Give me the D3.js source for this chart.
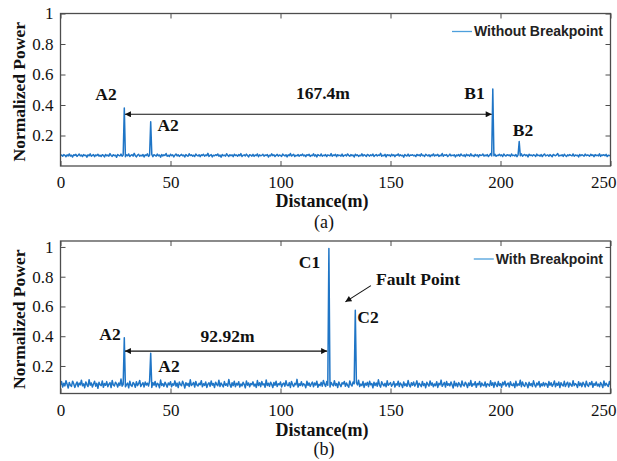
<!DOCTYPE html>
<html><head><meta charset="utf-8">
<script src="https://cdn.jsdelivr.net/npm/d3@7/dist/d3.min.js"></script>
<style>
html,body{margin:0;padding:0;background:#fff;}
svg{display:block;}
</style></head>
<body>
<svg id="chart" width="617" height="461"></svg>
<script>
// ---------------- DATA ----------------
const distStep = 0.5;            // metres between samples (0 .. 250 m)
const xTicks = [0, 50, 100, 150, 200, 250];
const yTicks = [0.2, 0.4, 0.6, 0.8, 1];
const yTickLabels = ["0.2", "0.4", "0.6", "0.8", "1"];

// background noise, normalised power x1000 (without breakpoint)
const noiseA = [
68,72,64,75,70,61,73,66,79,65,71,59,74,69,76,63,70,78,66,72,
62,75,69,71,58,73,67,80,64,70,75,61,72,68,77,65,71,63,74,69,
60,76,67,72,65,81,69,63,74,68,71,57,75,70,66,78,64,72,69,61,
73,67,79,62,70,74,65,83,68,60,72,77,64,71,66,75,59,73,69,80,
63,71,68,76,61,74,70,65,78,67,72,58,75,66,73,69,82,64,70,62,
77,68,73,60,71,79,66,74,63,70,76,67,72,59,75,68,64,80,69,73,
65,71,62,78,70,66,74,61,73,69,77,64,72,68,83,63,70,75,60,71,
67,74,69,79,64,72,58,76,68,71,65,80,70,63,74,67,73,61,77,69,
72,64,75,68,81,62,70,73,66,78,69,60,74,71,65,76,63,72,68,79,
61,73,67,70,77,64,72,69,75,59,71,66,80,68,74,62,70,76,65,72,
69,63,78,71,66,74,60,73,68,82,65,71,76,62,70,67,75,64,73,69,
78,66,72,61,74,69,77,63,71,68,80,65,73,60,75,70,66,79,64,71,
68,75,62,73,70,67,81,64,72,69,76,61,74,68,71,65,78,63,70,73,
66,79,70,64,75,68,72,59,77,69,73,63,71,67,80,65,74,70,62,76,
71,65,73,68,78,62,70,75,66,72,69,83,64,71,67,76,60,74,69,72,
63,77,68,74,61,72,70,79,65,73,67,71,58,75,69,66,78,64,72,70,
74,67,71,62,76,69,73,65,80,68,70,63,77,71,66,74,61,72,68,79,
65,72,69,76,63,71,67,82,64,73,70,75,62,69,78,66,71,68,74,60,
72,68,75,64,79,70,66,73,61,77,69,72,65,80,67,71,63,76,68,73,
60,74,69,71,78,65,72,67,75,62,70,81,66,73,68,76,64,71,69,77,
67,73,62,78,70,65,74,69,72,63,79,68,71,66,75,61,73,70,67,80,
64,71,76,68,73,60,77,69,72,66,74,70,63,78,68,71,65,75,62,72,
79,66,70,73,64,75,68,61,76,71,67,73,82,65,70,68,74,63,77,69,
62,73,68,75,70,66,79,64,72,69,71,60,76,67,74,70,65,78,68,72,
70,64,77,69,73,61,75,68,71,66,80,63,72,69,74,67,76,62,71,68,
70];

// background noise, normalised power x1000 (with breakpoint)
const noiseB = [
72,95,58,84,66,101,77,52,89,70,63,98,81,56,76,92,61,85,73,104,
67,80,54,93,75,62,108,71,86,59,79,97,64,83,50,90,74,68,99,57,
82,70,95,61,78,88,55,102,73,66,91,80,58,86,69,112,64,77,94,60,
75,85,53,97,71,63,89,79,57,94,68,81,103,62,76,87,59,92,72,84,
65,99,74,56,88,70,96,61,83,77,54,105,69,81,63,91,76,58,86,73,
94,60,80,71,100,64,85,55,92,75,67,98,79,52,88,70,83,62,107,68,
77,89,58,96,72,65,84,74,101,60,81,69,93,56,78,87,63,99,71,82,
55,91,76,67,104,62,85,73,59,95,70,80,64,109,75,57,88,68,97,61,
83,72,94,58,79,66,90,77,53,99,71,86,60,82,74,93,65,78,56,102,
69,87,61,95,73,80,57,106,68,84,63,91,76,55,89,70,97,62,81,74,
92,59,78,85,64,100,71,67,88,56,96,75,62,83,73,110,58,80,69,94,
66,81,74,54,97,70,86,63,79,92,60,85,72,98,57,77,68,90,64,103,
78,62,95,71,84,58,89,76,66,101,69,82,55,93,74,61,87,79,96,63,
85,70,57,99,75,65,92,80,59,88,73,104,62,78,68,95,56,84,71,90,
61,97,74,82,53,91,69,86,64,107,72,58,94,77,66,83,60,100,70,79,
88,64,76,95,58,81,71,98,62,85,75,55,93,68,80,63,102,73,59,87,
70,92,65,78,100,57,84,74,61,96,69,82,54,90,76,64,99,71,86,60,
79,68,94,56,83,73,105,63,77,89,58,95,70,81,66,92,74,52,97,67,
84,61,88,75,59,99,72,65,91,78,55,86,69,102,63,80,73,94,57,82,
74,96,60,85,71,67,93,58,80,76,64,100,70,87,56,91,75,62,95,69,
81,57,90,73,98,64,78,86,59,94,72,68,83,55,97,66,79,71,104,61,
93,70,63,88,76,54,91,69,82,62,100,74,59,85,72,96,58,80,67,89,
65,84,78,57,95,71,87,63,76,99,60,83,70,92,55,88,73,66,97,62,
79,91,58,86,72,64,101,68,81,75,56,94,69,85,61,90,77,59,98,71,
63,87,74,96,57,82,70,93,66,78,60,89,75,55,99,68,84,72,62,95,
74];

// reflection peaks: distance (m) and normalised power
const peakDistA = [29, 41, 196.5, 208.5];
const peakValA  = [0.38, 0.29, 0.505, 0.16];
const peakNameA = ["A2", "A2", "B1", "B2"];

const peakDistB = [29, 41, 122, 134];
const peakValB  = [0.39, 0.285, 0.99, 0.575];
const peakNameB = ["A2", "A2", "C1", "C2"];

const legendA = "Without Breakpoint";
const legendB = "With Breakpoint";
const spanLabelA = "167.4m";
const spanLabelB = "92.92m";
const faultLabel = "Fault Point";
const xTitle = "Distance(m)";
const yTitle = "Normalized Power";
const panelTags = ["(a)", "(b)"];

// ---------------- BUILD SERIES ----------------
function buildSeries(noise, pd, pv) {
  const vals = noise.map(v => v / 1000);
  pd.forEach((d, i) => { vals[Math.round(d / distStep)] = pv[i]; });
  return vals.map((v, i) => ({ d: i * distStep, v }));
}
const seriesA = buildSeries(noiseA, peakDistA, peakValA);
const seriesB = buildSeries(noiseB, peakDistB, peakValB);

// ---------------- DRAW ----------------
const svg = d3.select("#chart");
const serif = "'Liberation Serif','Times New Roman',serif";
const sans = "'Liberation Sans',Arial,sans-serif";
const lineColor = "#1f75c6";
const frameColor = "#4d4d4d";

const defs = svg.append("defs");
defs.append("marker").attr("id", "ah").attr("viewBox", "0 0 10 10")
  .attr("refX", 10).attr("refY", 5).attr("markerWidth", 7).attr("markerHeight", 6)
  .attr("markerUnits", "userSpaceOnUse").attr("orient", "auto-start-reverse")
  .append("path").attr("d", "M0,0 L10,5 L0,10 Z").attr("fill", "#111");

const x = d3.scaleLinear().domain([0, 250]).range([60.5, 610.5]);

const panels = [
  { top: 13.5, bottom: 166, dom: [0, 1], series: seriesA, legend: legendA,
    tag: panelTags[0], titleY: 207, tagY: 228 },
  { top: 241, bottom: 393.5, dom: [0.015, 1.04], series: seriesB, legend: legendB,
    tag: panelTags[1], titleY: 436, tagY: 455 }
];

panels.forEach((p, pi) => {
  const y = d3.scaleLinear().domain(p.dom).range([p.bottom, p.top]);
  p.y = y;
  const g = svg.append("g");

  // clip
  const cid = "clip" + pi;
  defs.append("clipPath").attr("id", cid).append("rect")
    .attr("x", x(0)).attr("y", p.top).attr("width", x(250) - x(0)).attr("height", p.bottom - p.top);

  // data line
  g.append("path").datum(p.series)
    .attr("clip-path", `url(#${cid})`)
    .attr("fill", "none").attr("stroke", lineColor).attr("stroke-width", 1.5)
    .attr("stroke-linejoin", "round")
    .attr("d", d3.line().x(d => x(d.d)).y(d => y(d.v)));

  // axes (inward ticks)
  const fmt = d => yTickLabels[yTicks.indexOf(d)];
  const ax = g.append("g").attr("transform", `translate(0,${p.bottom})`)
    .call(d3.axisBottom(x).tickValues(xTicks).tickSize(-5).tickPadding(10));
  // keep the last tick label inside the picture
  ax.selectAll(".tick text").filter(d => d === 250).attr("text-anchor", "end").attr("dx", 5.5);
  g.append("g").attr("transform", `translate(0,${p.top})`)
    .call(d3.axisTop(x).tickValues(xTicks).tickSize(-5).tickFormat(""));
  g.append("g").attr("transform", `translate(${x(0)},0)`)
    .call(d3.axisLeft(y).tickValues(yTicks).tickSize(-5).tickPadding(7).tickFormat(fmt));
  g.append("g").attr("transform", `translate(${x(250)},0)`)
    .call(d3.axisRight(y).tickValues(yTicks).tickSize(-5).tickFormat(""));
  g.selectAll(".domain").remove();
  g.selectAll(".tick line").attr("stroke", frameColor).attr("stroke-width", 1);
  g.selectAll(".tick text").attr("font-family", serif).attr("font-size", 17).attr("fill", "#111");

  // frame
  g.append("rect").attr("x", x(0)).attr("y", p.top)
    .attr("width", x(250) - x(0)).attr("height", p.bottom - p.top)
    .attr("fill", "none").attr("stroke", frameColor).attr("stroke-width", 1.3);

  // titles
  g.append("text").attr("x", 322).attr("y", p.titleY).attr("text-anchor", "middle")
    .attr("font-family", serif).attr("font-weight", "bold").attr("font-size", 18)
    .attr("fill", "#111").text(xTitle);
  g.append("text").attr("x", 324).attr("y", p.tagY).attr("text-anchor", "middle")
    .attr("font-family", serif).attr("font-size", 18).attr("fill", "#111").text(p.tag);
  const yc = (p.top + p.bottom) / 2 + 2;
  g.append("text").attr("transform", `translate(25,${yc}) rotate(-90)`)
    .attr("text-anchor", "middle").attr("font-family", serif).attr("font-weight", "bold")
    .attr("font-size", 17.5).attr("fill", "#111").text(yTitle);

  // legend
  const lt = g.append("text").attr("x", 603).attr("y", p.top + 22.5).attr("text-anchor", "end")
    .attr("font-family", sans).attr("font-weight", "bold").attr("font-size", 14)
    .attr("fill", "#222").text(p.legend);
  const tw = lt.node().getComputedTextLength();
  g.append("line").attr("x1", 603 - tw - 22).attr("x2", 603 - tw - 2)
    .attr("y1", p.top + 18).attr("y2", p.top + 18)
    .attr("stroke", "#4d9fdc").attr("stroke-width", 1.3);
});

function label(p, dm, v, txt, anchor) {
  svg.append("text").attr("x", x(dm)).attr("y", p.y(v)).attr("text-anchor", anchor || "middle")
    .attr("font-family", serif).attr("font-weight", "bold").attr("font-size", 17.5)
    .attr("fill", "#111").text(txt);
}
function arrow(p, d1, v1, d2, v2, both) {
  const l = svg.append("line").attr("x1", x(d1)).attr("y1", p.y(v1))
    .attr("x2", x(d2)).attr("y2", p.y(v2))
    .attr("stroke", "#111").attr("stroke-width", 1.1).attr("marker-end", "url(#ah)");
  if (both) l.attr("marker-start", "url(#ah)");
}

// panel (a) annotations
const pa = panels[0], pb = panels[1];
label(pa, 20.7, 0.433, peakNameA[0]);
label(pa, 48.9, 0.23, peakNameA[1]);
label(pa, 188.2, 0.44, peakNameA[2]);
label(pa, 210.2, 0.197, peakNameA[3]);
label(pa, 119.3, 0.44, spanLabelA);
arrow(pa, peakDistA[0] + 0.3, 0.339, peakDistA[2] - 0.5, 0.339, true);

// panel (b) annotations
label(pb, 22.5, 0.375, peakNameB[0]);
label(pb, 49.3, 0.16, peakNameB[1]);
label(pb, 113.2, 0.86, peakNameB[2]);
label(pb, 139.8, 0.49, peakNameB[3]);
label(pb, 75.9, 0.362, spanLabelB);
label(pb, 143.4, 0.746, faultLabel, "start");
arrow(pb, peakDistB[0] + 0.3, 0.30, peakDistB[2] - 0.8, 0.30, true);
arrow(pb, 141.1, 0.740, 129.5, 0.631, false);
</script>
</body></html>
